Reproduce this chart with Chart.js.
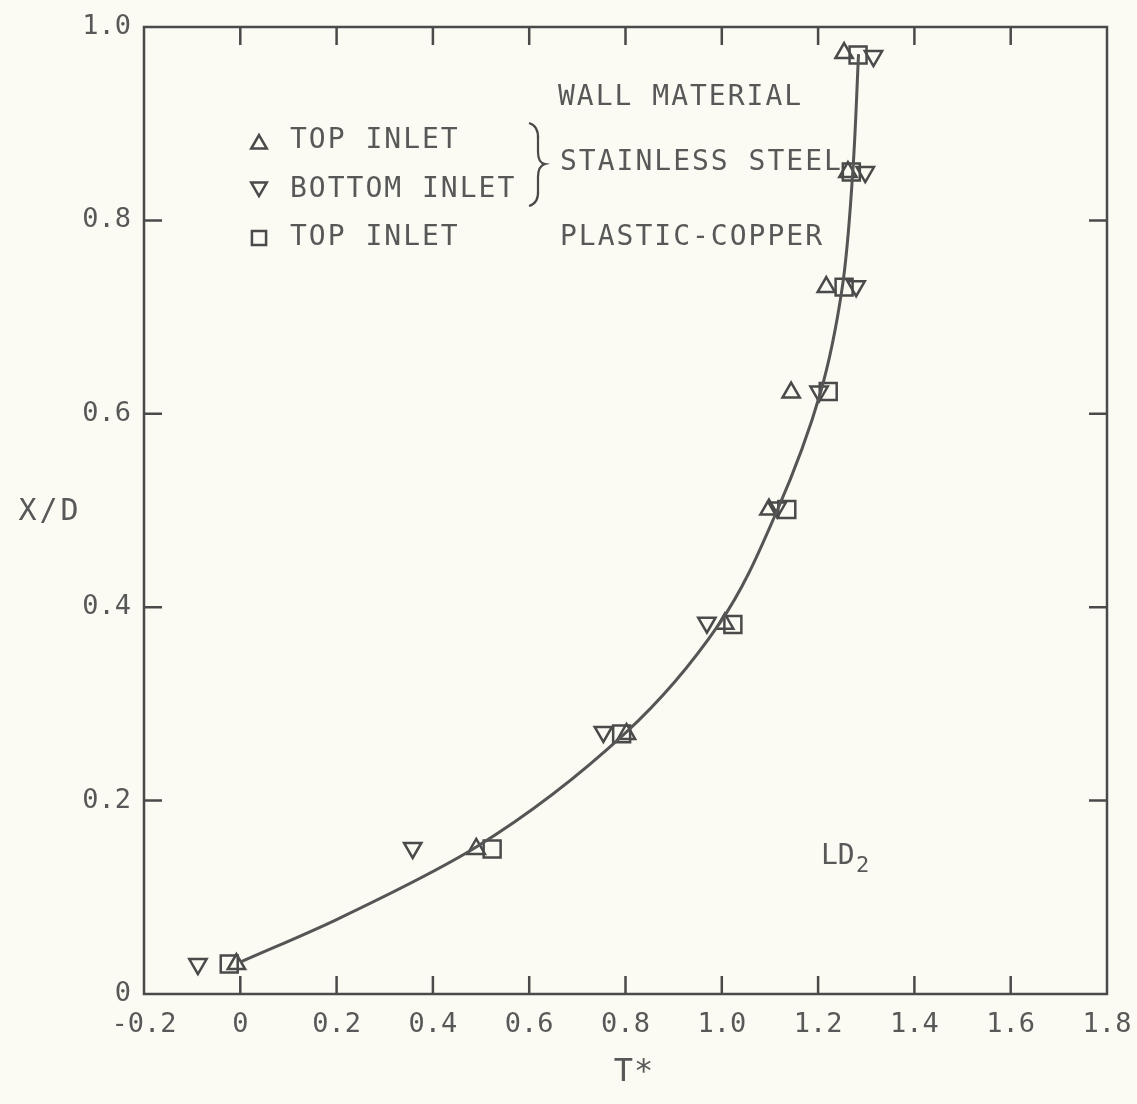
<!DOCTYPE html>
<html>
<head>
<meta charset="utf-8">
<title>X/D vs T* — LD2</title>
<script src="https://cdn.jsdelivr.net/npm/chart.js@4.4.0/dist/chart.umd.min.js"></script>
<style>
  html, body { margin: 0; padding: 0; background: #fbfbf3; }
  #wrap { width: 1137px; height: 1104px; position: relative; }
</style>
</head>
<body>
<div id="wrap"><canvas id="chart"></canvas></div>
<script>
// measured points, [T*, X/D]
const topInletSteel = [
  [-0.008, 0.031], [0.490, 0.150], [0.802, 0.269], [1.006, 0.383], [1.098, 0.501],
  [1.144, 0.622], [1.217, 0.731], [1.262, 0.850], [1.254, 0.973]
];
const bottomInletSteel = [
  [-0.088, 0.031], [0.358, 0.151], [0.754, 0.271], [0.969, 0.384], [1.115, 0.503],
  [1.202, 0.623], [1.279, 0.732], [1.298, 0.850], [1.315, 0.970]
];
const topInletCopper = [
  [-0.023, 0.031], [0.523, 0.150], [0.792, 0.269], [1.023, 0.382], [1.135, 0.501],
  [1.221, 0.623], [1.254, 0.731], [1.269, 0.850], [1.283, 0.971]
];
// faired curve through the data (X/D rises monotonically along it)
const fitCurve = [
  [0.0, 0.033], [0.2, 0.077], [0.49, 0.152], [0.80, 0.270], [0.995, 0.383],
  [1.115, 0.500], [1.205, 0.622], [1.250, 0.730], [1.272, 0.850], [1.284, 0.972]
];

const xTickValues = [-0.2, 0, 0.2, 0.4, 0.6, 0.8, 1.0, 1.2, 1.4, 1.6, 1.8];
const yTickValues = [0, 0.2, 0.4, 0.6, 0.8, 1.0];

const INK = "#4a4a4a";
const TEXT = "#585858";
const PAPER = "#fbfbf3";
const FONT = '"DejaVu Sans Mono", monospace';
const TICK = 18;

const toXY = (pts) => pts.map(([x, y]) => ({ x, y }));
const fmt = (v) => (Math.abs(v) < 1e-9 ? "0" : v.toFixed(1));

const paper = {
  id: "paper",
  beforeDraw(chart) {
    const { ctx, width, height } = chart;
    ctx.save();
    ctx.fillStyle = PAPER;
    ctx.fillRect(0, 0, width, height);
    ctx.restore();
  }
};

// frame plus inward ticks on all four sides
const frameTicks = {
  id: "frameTicks",
  beforeDatasetsDraw(chart) {
    const { ctx, chartArea: a, scales: { x, y } } = chart;
    ctx.save();
    ctx.strokeStyle = INK;
    ctx.lineWidth = 2.5;
    ctx.beginPath();
    xTickValues.slice(1, -1).forEach((v) => {
      const px = x.getPixelForValue(v);
      ctx.moveTo(px, a.bottom); ctx.lineTo(px, a.bottom - TICK);
      ctx.moveTo(px, a.top); ctx.lineTo(px, a.top + TICK);
    });
    yTickValues.slice(1, -1).forEach((v) => {
      const py = y.getPixelForValue(v);
      ctx.moveTo(a.left, py); ctx.lineTo(a.left + TICK, py);
      ctx.moveTo(a.right, py); ctx.lineTo(a.right - TICK, py);
    });
    ctx.stroke();
    ctx.strokeRect(a.left, a.top, a.right - a.left, a.bottom - a.top);
    ctx.restore();
  }
};

function marker(ctx, style, rotation, radius, x, y) {
  ctx.save();
  ctx.fillStyle = "rgba(0,0,0,0)";
  ctx.strokeStyle = INK;
  ctx.lineWidth = 2.5;
  Chart.helpers.drawPoint(ctx, { pointStyle: style, rotation, radius, borderWidth: 2.5 }, x, y);
  ctx.restore();
}

function spaced(ctx, text, x, y, size, spacing) {
  ctx.font = `${size}px ${FONT}`;
  ctx.letterSpacing = `${spacing}px`;
  ctx.fillText(text, x, y);
}

// legend block, wall material notes, axis names
const notes = {
  id: "notes",
  afterDraw(chart) {
    const ctx = chart.ctx;
    ctx.save();
    ctx.fillStyle = TEXT;
    ctx.strokeStyle = INK;
    ctx.textBaseline = "middle";
    ctx.textAlign = "left";

    marker(ctx, "triangle", 0, 9, 259, 144);
    marker(ctx, "triangle", 180, 9, 259, 187);
    marker(ctx, "rect", 0, 10, 259, 238);

    spaced(ctx, "TOP INLET", 290, 141, 28, 2);
    spaced(ctx, "BOTTOM INLET", 290, 190, 28, 2);
    spaced(ctx, "TOP INLET", 290, 238, 28, 2);

    spaced(ctx, "WALL MATERIAL", 558, 98, 28, 2);
    spaced(ctx, "STAINLESS STEEL", 560, 163, 28, 2);
    spaced(ctx, "PLASTIC-COPPER", 560, 238, 28, 2);

    // brace grouping the two stainless rows
    ctx.lineWidth = 2.2;
    ctx.beginPath();
    ctx.moveTo(529, 123);
    ctx.quadraticCurveTo(539, 126, 538, 140);
    ctx.lineTo(538, 152);
    ctx.quadraticCurveTo(538, 163, 545, 164);
    ctx.quadraticCurveTo(538, 166, 538, 177);
    ctx.lineTo(538, 190);
    ctx.quadraticCurveTo(539, 203, 529, 206);
    ctx.stroke();

    spaced(ctx, "LD", 821, 857, 28, 0);
    spaced(ctx, "2", 856, 866, 22, 0);

    ctx.textAlign = "center";
    spaced(ctx, "X/D", 50, 512, 30, 3);
    spaced(ctx, "T*", 634, 1073, 32, 1);
    ctx.restore();
  }
};

const pointSet = (label, data, style, rotation) => ({
  type: "scatter",
  label,
  data: toXY(data),
  pointStyle: style,
  rotation,
  pointRadius: style === "rect" ? 12 : 10,
  pointBorderWidth: 2.5,
  borderColor: INK,
  backgroundColor: "rgba(0,0,0,0)",
  showLine: false
});

new Chart(document.getElementById("chart"), {
  data: {
    datasets: [
      {
        type: "line",
        label: "curve",
        data: toXY(fitCurve),
        indexAxis: "y",
        cubicInterpolationMode: "monotone",
        borderColor: "#555",
        borderWidth: 3,
        pointRadius: 0,
        fill: false
      },
      pointSet("TOP INLET (stainless steel)", topInletSteel, "triangle", 0),
      pointSet("BOTTOM INLET (stainless steel)", bottomInletSteel, "triangle", 180),
      pointSet("TOP INLET (plastic-copper)", topInletCopper, "rect", 0)
    ]
  },
  options: {
    responsive: true,
    maintainAspectRatio: false,
    animation: false,
    events: [],
    layout: { padding: { top: 27, right: 30, left: 0, bottom: 0 } },
    plugins: { legend: { display: false }, tooltip: { enabled: false } },
    scales: {
      x: {
        type: "linear",
        min: -0.2,
        max: 1.8,
        afterBuildTicks: (s) => { s.ticks = xTickValues.map((value) => ({ value })); },
        afterFit: (s) => {
          s.height = 110;
          s.paddingLeft = 0;
          s.paddingRight = 0;
        },
        grid: { display: false, drawTicks: false },
        border: { display: false },
        ticks: {
          padding: 15,
          color: TEXT,
          font: { family: FONT, size: 27 },
          maxRotation: 0,
          autoSkip: false,
          callback: (v) => fmt(v)
        }
      },
      y: {
        type: "linear",
        min: 0,
        max: 1.0,
        afterBuildTicks: (s) => { s.ticks = yTickValues.map((value) => ({ value })); },
        afterFit: (s) => {
          s.width = 144;
          s.paddingTop = 0;
          s.paddingBottom = 0;
        },
        grid: { display: false, drawTicks: false },
        border: { display: false },
        ticks: {
          padding: 13,
          color: TEXT,
          font: { family: FONT, size: 27 },
          autoSkip: false,
          callback: (v) => fmt(v)
        }
      }
    }
  },
  plugins: [paper, frameTicks, notes]
});
</script>
</body>
</html>
